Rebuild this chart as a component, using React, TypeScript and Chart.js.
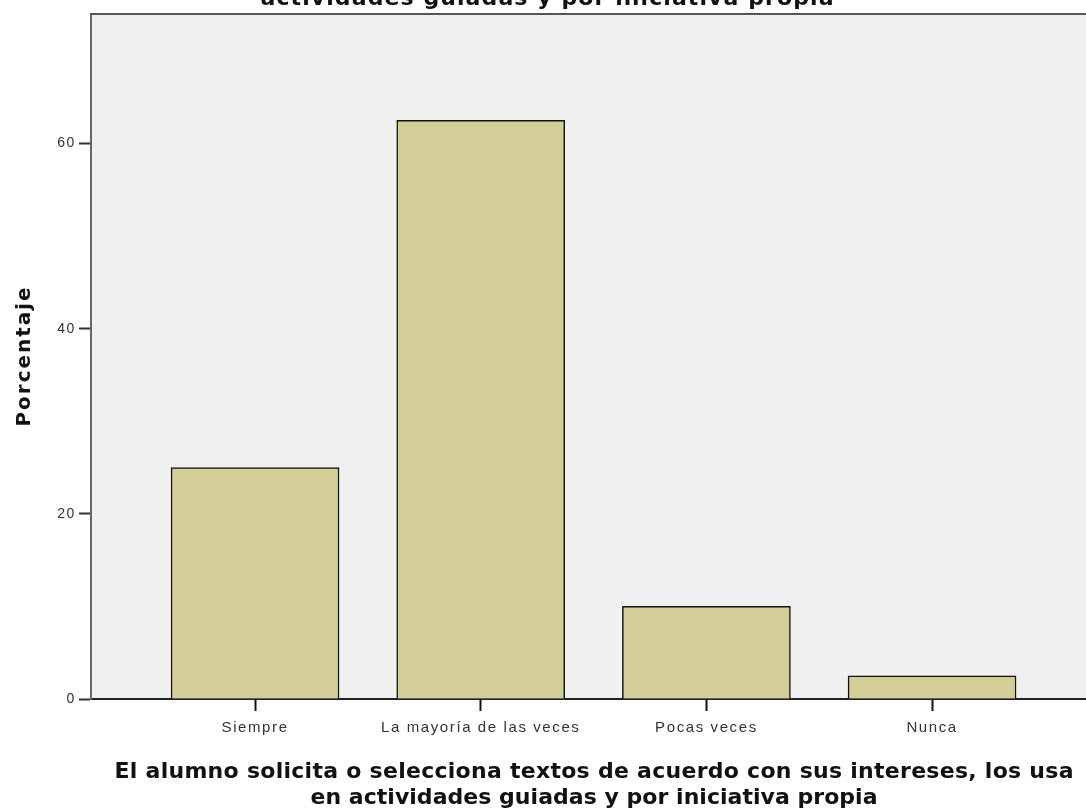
import React, { useEffect, useRef } from "react";
import { Chart, registerables } from "chart.js";

Chart.register(...registerables);

const categories = ["Siempre", "La mayoría de las veces", "Pocas veces", "Nunca"];
const percentages = [25, 62.5, 10, 2.5];
const yTicks = [0, 20, 40, 60];
const topTitleText = "actividades guiadas y por iniciativa propia";
const xTitleLines = [
  "El alumno solicita o selecciona textos de acuerdo con sus intereses, los usa",
  "en actividades guiadas y por iniciativa propia",
];
const yTitleText = "Porcentaje";

const FONT = '"Liberation Sans", Arial, sans-serif';
const TITLE_FONT = '"DejaVu Sans", "Liberation Sans", sans-serif';

function drawSpaced(ctx: CanvasRenderingContext2D, text: string, cx: number, y: number, target: number) {
  (ctx as any).letterSpacing = "0px";
  const w0 = ctx.measureText(text).width;
  const n = [...text].length;
  const sp = (target - w0) / Math.max(1, n - 1);
  (ctx as any).letterSpacing = sp + "px";
  ctx.textAlign = "left";
  ctx.fillText(text, cx - target / 2, y);
  (ctx as any).letterSpacing = "0px";
}

const decorPlugin = {
  id: "decor",
  beforeDraw(chart: any) {
    const { ctx, chartArea } = chart;
    ctx.save();
    ctx.fillStyle = "#ffffff";
    ctx.fillRect(0, 0, chart.width, chart.height);
    ctx.fillStyle = "#f0f0f0";
    ctx.fillRect(chartArea.left, chartArea.top, chartArea.right - chartArea.left, chartArea.bottom - chartArea.top);
    ctx.restore();
    (ctx as any).letterSpacing = "1.6px";
  },
  afterDraw(chart: any) {
    const { ctx, chartArea } = chart;
    (ctx as any).letterSpacing = "0px";
    ctx.save();
    // top frame line
    ctx.strokeStyle = "#555";
    ctx.lineWidth = 2;
    ctx.beginPath();
    ctx.moveTo(chartArea.left - 1, chartArea.top);
    ctx.lineTo(chartArea.right, chartArea.top);
    ctx.stroke();

    ctx.fillStyle = "#111";
    ctx.textBaseline = "alphabetic";
    ctx.font = `bold 22px ${TITLE_FONT}`;
    drawSpaced(ctx, topTitleText, 547, 5, 573);
    drawSpaced(ctx, xTitleLines[0], 594, 778, 959);
    drawSpaced(ctx, xTitleLines[1], 594, 804, 567);

    ctx.font = `bold 20px ${TITLE_FONT}`;
    ctx.translate(30, 357);
    ctx.rotate(-Math.PI / 2);
    drawSpaced(ctx, yTitleText, 0, 0, 139);
    ctx.restore();
  },
};

export default function App() {
  const ref = useRef<HTMLCanvasElement | null>(null);
  useEffect(() => {
    if (!ref.current) return;
    const chart = new Chart(ref.current, {
      type: "bar",
      data: {
        datasets: [
          {
            data: percentages.map((v, i) => ({ x: i, y: v })),
            backgroundColor: "#d3ce98",
            borderColor: "#111111",
            borderWidth: 1.5,
            barThickness: 168,
          },
        ],
      },
      options: {
        animation: false,
        responsive: false,
        layout: { padding: { top: 14, left: 0, right: 0, bottom: 0 } },
        plugins: { legend: { display: false }, tooltip: { enabled: false }, title: { display: false } },
        scales: {
          x: {
            type: "linear",
            offset: false,
            min: -0.727,
            max: 3.682,
            afterBuildTicks: (scale: any) => {
              scale.ticks = categories.map((_, i) => ({ value: i }));
            },
            afterFit: (scale: any) => {
              scale.height = 110;
            },
            ticks: {
              autoSkip: false,
              maxRotation: 0,
              padding: 8,
              color: "#333",
              font: { family: FONT, size: 15 },
              callback: (v: any) => categories[Number(v)] ?? "",
            },
            grid: { offset: false, drawOnChartArea: false, drawTicks: true, tickLength: 12, tickColor: "#111", tickWidth: 2 },
            border: { display: true, color: "#222", width: 2 },
          },
          y: {
            min: 0,
            max: 74,
            afterBuildTicks: (scale: any) => {
              scale.ticks = yTicks.map((v) => ({ value: v }));
            },
            afterFit: (scale: any) => {
              scale.width = 91;
            },
            ticks: {
              padding: 3,
              color: "#333",
              font: { family: FONT, size: 14 },
              callback: (v: any) => String(v),
            },
            grid: { drawOnChartArea: false, drawTicks: true, tickLength: 12, tickColor: "#333", tickWidth: 2 },
            border: { display: true, color: "#666", width: 2 },
          },
        },
      },
      plugins: [decorPlugin],
    } as any);
    return () => chart.destroy();
  }, []);
  return (
    <div style={{ position: "fixed", left: 0, top: 0, width: 1086, height: 809, background: "#fff" }}>
      <canvas ref={ref} width={1086} height={809} style={{ display: "block", width: 1086, height: 809 }} />
    </div>
  );
}
